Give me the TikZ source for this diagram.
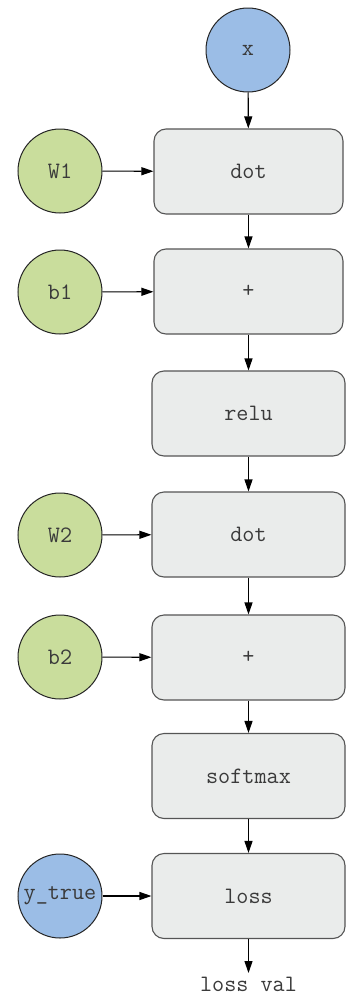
\documentclass[tikz,border=0pt]{standalone}
\usepackage{fontspec}
\usetikzlibrary{arrows.meta}
\definecolor{inblue}{HTML}{9BBDE6}
\definecolor{ingreen}{HTML}{C9DD9C}
\definecolor{boxfill}{HTML}{EAECEB}
\definecolor{boxline}{HTML}{555555}
\definecolor{txt}{HTML}{3A3A3A}
\begin{document}
\begin{tikzpicture}[x=1pt,y=-1pt,
  every node/.style={font=\ttfamily\fontsize{23.5}{26}\selectfont, text=txt},
  inp/.style={circle, draw=black!85, line width=1pt, minimum size=84pt, inner sep=0pt},
  opbox/.style={rectangle, rounded corners=12pt, draw=boxline, line width=1.1pt, fill=boxfill, minimum height=85pt, inner sep=0pt},
  conn/.style={-{Triangle[length=12pt,width=8pt]}, line width=1.1pt, black}
]
\useasboundingbox (0,0) rectangle (346,996);
\node[inp, fill=inblue] (x) at (248,50) {x};
\node[inp, fill=ingreen] (W1) at (60,171) {W1};
\node[inp, fill=ingreen] (b1) at (60,292) {b1};
\node[inp, fill=ingreen] (W2) at (60,535) {W2};
\node[inp, fill=ingreen] (b2) at (60,657) {b2};
\node[inp, fill=inblue] (yt) at (60,896) {y\_true};

\node[opbox, minimum width=189pt] (dot1) at (248.5,171.5) {dot};
\node[opbox, minimum width=189pt] (plus1) at (248.5,291.5) {+};
\node[opbox, minimum width=193pt] (relu) at (248.5,413.5) {relu};
\node[opbox, minimum width=193pt] (dot2) at (248.5,534.5) {dot};
\node[opbox, minimum width=193pt] (plus2) at (248.5,657.5) {+};
\node[opbox, minimum width=193pt] (soft) at (248.5,776) {softmax};
\node[opbox, minimum width=193pt] (loss) at (248.5,896) {loss};
\node[inner sep=0pt, anchor=base] (lv) at (248.5,991) {loss val};
\coordinate (lvend) at (248.5,973);

\draw[conn] (x) -- (dot1);
\draw[conn] (W1) -- (dot1);
\draw[conn] (dot1) -- (plus1);
\draw[conn] (b1) -- (plus1);
\draw[conn] (plus1) -- (relu);
\draw[conn] (relu) -- (dot2);
\draw[conn] (W2) -- (dot2);
\draw[conn] (dot2) -- (plus2);
\draw[conn] (b2) -- (plus2);
\draw[conn] (plus2) -- (soft);
\draw[conn] (soft) -- (loss);
\draw[conn] (yt) -- (loss);
\draw[conn] (loss) -- (lvend);
\end{tikzpicture}
\end{document}
